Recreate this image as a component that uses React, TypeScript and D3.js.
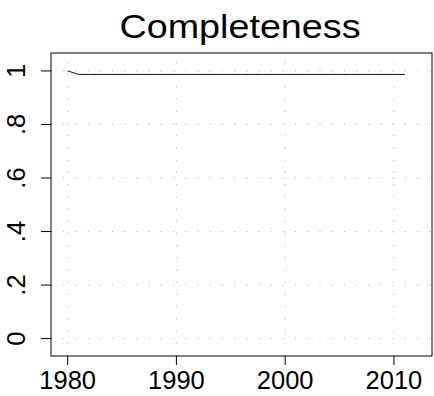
import { useEffect, useRef } from "react";
import * as d3 from "d3";

// completeness per year
const years = [
  1980, 1981, 1982, 1983, 1984, 1985, 1986, 1987, 1988, 1989, 1990, 1991,
  1992, 1993, 1994, 1995, 1996, 1997, 1998, 1999, 2000, 2001, 2002, 2003,
  2004, 2005, 2006, 2007, 2008, 2009, 2010, 2011,
];
const completeness = [
  1.0, 0.987, 0.987, 0.987, 0.987, 0.987, 0.987, 0.987, 0.987, 0.987, 0.987,
  0.987, 0.987, 0.987, 0.987, 0.987, 0.987, 0.987, 0.987, 0.987, 0.987, 0.987,
  0.987, 0.987, 0.987, 0.987, 0.987, 0.987, 0.987, 0.987, 0.987, 0.987,
];
const xTicks = [1980, 1990, 2000, 2010];
const yTicks = [0, 0.2, 0.4, 0.6, 0.8, 1];
const yTickLabels = ["0", ".2", ".4", ".6", ".8", "1"];

const App = () => {
  const svgRef = useRef<SVGSVGElement | null>(null);

  useEffect(() => {
    if (!svgRef.current) return;
    const width = 434;
    const height = 396;
    const box = { left: 51, right: 432, top: 53, bottom: 356 };
    const font = "'Liberation Sans', Arial, Helvetica, sans-serif";

    const svg = d3.select(svgRef.current);
    svg.selectAll("*").remove();
    svg.attr("width", width).attr("height", height);

    const x = d3
      .scaleLinear()
      .domain([1978.47, 2013.5])
      .range([box.left, box.right]);
    const y = d3
      .scaleLinear()
      .domain([-0.065, 1.067])
      .range([box.bottom, box.top]);

    // grid (dotted, light gray)
    const grid = svg.append("g");
    grid
      .selectAll("line.gx")
      .data(xTicks)
      .enter()
      .append("line")
      .attr("x1", (d) => x(d))
      .attr("x2", (d) => x(d))
      .attr("y1", box.bottom)
      .attr("y2", box.top)
      .attr("stroke", "#b8b8b8")
      .attr("stroke-dasharray", "1.2 11");
    grid
      .selectAll("line.gy")
      .data(yTicks)
      .enter()
      .append("line")
      .attr("x1", box.left)
      .attr("x2", box.right)
      .attr("y1", (d) => y(d))
      .attr("y2", (d) => y(d))
      .attr("stroke", "#b8b8b8")
      .attr("stroke-dasharray", "1.2 11");

    // line
    const line = d3
      .line<number>()
      .x((_, i) => x(years[i]))
      .y((d) => y(d));
    svg
      .append("path")
      .attr("d", line(completeness))
      .attr("fill", "none")
      .attr("stroke", "#111")
      .attr("stroke-width", 1);

    // box
    svg
      .append("rect")
      .attr("x", box.left)
      .attr("y", box.top)
      .attr("width", box.right - box.left)
      .attr("height", box.bottom - box.top)
      .attr("fill", "none")
      .attr("stroke", "#000")
      .attr("stroke-width", 1);

    // x axis
    const xa = svg.append("g");
    xa.selectAll("line")
      .data(xTicks)
      .enter()
      .append("line")
      .attr("x1", (d) => x(d))
      .attr("x2", (d) => x(d))
      .attr("y1", box.bottom)
      .attr("y2", box.bottom + 9)
      .attr("stroke", "#000");
    xa.selectAll("text")
      .data(xTicks)
      .enter()
      .append("text")
      .attr("x", (d) => x(d))
      .attr("y", 389)
      .attr("text-anchor", "middle")
      .attr("font-family", font)
      .attr("font-size", 25.5)
      .text((d) => String(d));

    // y axis
    const ya = svg.append("g");
    ya.selectAll("line")
      .data(yTicks)
      .enter()
      .append("line")
      .attr("x1", box.left)
      .attr("x2", box.left - 10)
      .attr("y1", (d) => y(d))
      .attr("y2", (d) => y(d))
      .attr("stroke", "#000");
    ya.selectAll("text")
      .data(yTicks)
      .enter()
      .append("text")
      .attr("transform", (d) => `translate(25,${y(d)}) rotate(-90)`)
      .attr("text-anchor", "middle")
      .attr("font-family", font)
      .attr("font-size", 25.5)
      .text((_, i) => yTickLabels[i]);

    // title
    svg
      .append("text")
      .attr("x", 240)
      .attr("y", 37.5)
      .attr("text-anchor", "middle")
      .attr("font-family", font)
      .attr("font-size", 34)
      .attr("textLength", 241)
      .attr("lengthAdjust", "spacingAndGlyphs")
      .text("Completeness");
  }, []);

  return (
    <svg
      ref={svgRef}
      style={{ position: "absolute", left: 0, top: 0, background: "#fff" }}
    ></svg>
  );
};

export default App;
